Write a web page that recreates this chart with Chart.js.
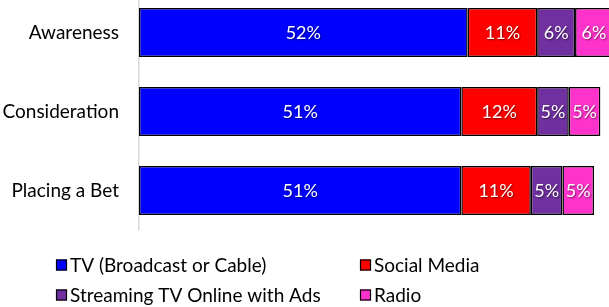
<!DOCTYPE html>
<html>
<head>
<meta charset="utf-8">
<script src="https://cdn.jsdelivr.net/npm/chart.js@4"></script>
<style>
	body { margin: 0; overflow: hidden; background: #fff; }
	.wrap { position: absolute; left: 0; top: -7px; width: 613px; height: 314px; }
</style>
</head>
<body>
<div class="wrap"><canvas class="chart" width="613" height="314"></canvas></div>
<script>
const categories = ["Awareness", "Consideration", "Placing a Bet"];
const seriesNames = ["TV (Broadcast or Cable)", "Social Media", "Streaming TV Online with Ads", "Radio"];
const tvValues = [52, 51, 51];
const socialValues = [11, 12, 11];
const streamingValues = [6, 5, 5];
const radioValues = [6, 5, 5];
const colors = ["#0000ff", "#ff0000", "#7030a0", "#ff33cc"];

const FONT = "Lato";

// white % labels centred in each bar segment
const barLabels = {
	id: "barLabels",
	afterDatasetsDraw(chart) {
		const ctx = chart.ctx;
		ctx.save();
		ctx.font = `18px ${FONT}`;
		ctx.fillStyle = "#fff";
		ctx.textAlign = "center";
		ctx.textBaseline = "middle";
		ctx.shadowColor = "rgba(0,0,0,0.55)";
		ctx.shadowOffsetX = 1;
		ctx.shadowOffsetY = 1;
		ctx.shadowBlur = 2;
		chart.data.datasets.forEach((ds, i) => {
			chart.getDatasetMeta(i).data.forEach((bar, j) => {
				const cx = (bar.x + bar.base) / 2;
				ctx.fillText(ds.data[j] + "%", cx, bar.y + 1);
			});
		});
		ctx.restore();
	},
};

// two-column legend under the plot
const gridLegend = {
	id: "gridLegend",
	afterDraw(chart) {
		const ctx = chart.ctx;
		const cols = [56, 360];
		const rows = [272, 302];
		ctx.save();
		ctx.font = `19px ${FONT}`;
		ctx.textBaseline = "middle";
		chart.data.datasets.forEach((ds, i) => {
			const x = cols[i % 2];
			const y = rows[Math.floor(i / 2)];
			ctx.fillStyle = ds.backgroundColor;
			ctx.fillRect(x, y - 5.5, 11, 11);
			ctx.strokeStyle = "#000";
			ctx.lineWidth = 1.2;
			ctx.strokeRect(x + 0.5, y - 5, 10, 10);
			ctx.fillStyle = "#000";
			ctx.fillText(ds.label, x + 14, y + 1);
		});
		ctx.restore();
	},
};

const chartCanvas = document.querySelector(".chart");
const valueLists = [tvValues, socialValues, streamingValues, radioValues];

const myChart = new Chart(chartCanvas, {
	type: "bar",
	data: {
		labels: categories,
		datasets: seriesNames.map((name, i) => ({
			label: name,
			data: valueLists[i],
			backgroundColor: colors[i],
			borderColor: "#000",
			borderWidth: 1.5,
			borderSkipped: false,
			barPercentage: 0.62,
			categoryPercentage: 1,
		})),
	},
	options: {
		indexAxis: "y",
		responsive: false,
		animation: false,
		layout: { padding: { top: 0, right: 0, bottom: 77, left: 0 } },
		plugins: {
			legend: { display: false },
			tooltip: { enabled: false },
		},
		scales: {
			x: {
				stacked: true,
				min: 0,
				max: 75,
				display: false,
			},
			y: {
				stacked: true,
				grid: { display: false },
				border: { color: "#d9d9d9", width: 1.5 },
				ticks: {
					color: "#000",
					padding: 12,
					font: { family: FONT, size: 19 },
				},
				afterFit(scale) {
					scale.width = 139;
					scale.paddingTop = 0;
					scale.paddingBottom = 0;
				},
			},
		},
	},
	plugins: [barLabels, gridLegend],
});
</script>
</body>
</html>
